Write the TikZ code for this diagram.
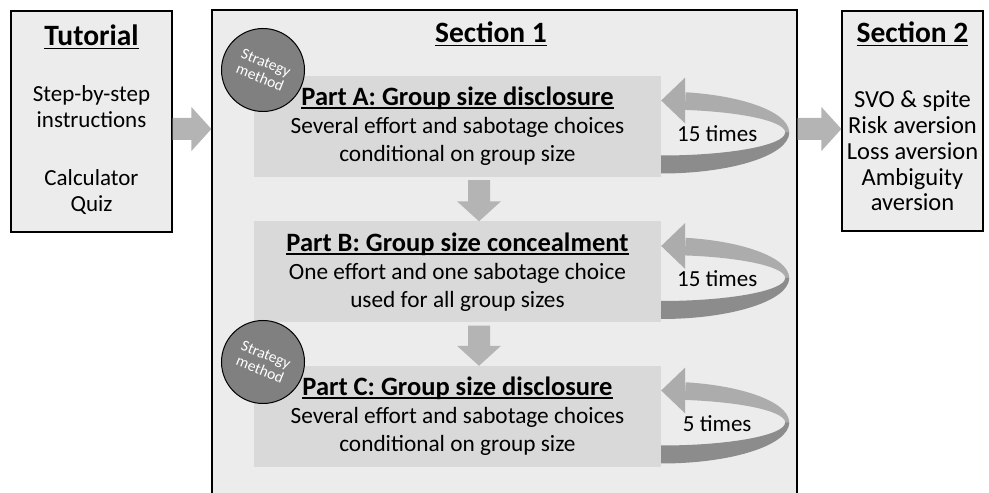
\documentclass[tikz,border=0pt]{standalone}
\usepackage{fontspec}
\setmainfont{Carlito}
\usetikzlibrary{positioning,calc}

\definecolor{boxgray}{RGB}{236,236,236}
\definecolor{partgray}{RGB}{217,217,217}
\definecolor{arrowgray}{RGB}{180,180,180}
\definecolor{looplight}{RGB}{172,172,172}
\definecolor{loopdark}{RGB}{140,140,140}
\definecolor{stratgray}{RGB}{128,128,128}

% underlined heading, line just under the baseline
\newcommand{\ultitle}[1]{\setbox0=\hbox{#1}\rlap{\rule[-3.5pt]{\wd0}{1.8pt}}\box0}

% fat arrow to the right, from a tail point to the x of a node side
\newcommand{\rightblock}[2]{%
  \fill[arrowgray] let \p1=(#1), \p2=(#2) in
    (\x1,\y1+11) -- (\x2-20,\y1+11) -- (\x2-20,\y1+22) -- (\x2,\y1)
    -- (\x2-20,\y1-22) -- (\x2-20,\y1-11) -- (\x1,\y1-11) -- cycle;}
% fat arrow downwards
\newcommand{\downblock}[2]{%
  \fill[arrowgray] let \p1=(#1), \p2=(#2) in
    (\x1-11,\y1) -- (\x1-11,\y2+20) -- (\x1-22,\y2+20) -- (\x1,\y2)
    -- (\x1+22,\y2+20) -- (\x1+11,\y2+20) -- (\x1+11,\y1) -- cycle;}

\tikzset{
  outerbox/.style={draw=black, line width=1.2pt, fill=boxgray, inner sep=0pt},
  partbox/.style={fill=partgray, minimum width=407, minimum height=101, inner sep=0pt,
    align=center, font=\fontsize{23.3}{28}\selectfont},
  strat/.style={circle, draw=black, line width=1pt, fill=stratgray, minimum size=83,
    inner sep=0pt, text=white, align=center, font=\fontsize{15.5}{16}\selectfont},
  secttitle/.style={anchor=base, font=\fontsize{29.5}{30}\selectfont\bfseries},
  bodytext/.style={anchor=base, font=\fontsize{23}{26}\selectfont},
  sidetext/.style={anchor=base, font=\fontsize{24.5}{26}\selectfont},
  looplabel/.style={font=\fontsize{23}{26}\selectfont}
}

\begin{document}
\begin{tikzpicture}[x=1pt,y=1pt]
\useasboundingbox (0,0) rectangle (989,493);

% the three big boxes
\node[outerbox, minimum width=161, minimum height=221] (tutorial) at (91.5,371.5) {};
\node[outerbox, minimum width=585, minimum height=493] (sec1) at (504.5,236.5) {};
\node[outerbox, minimum width=141, minimum height=220] (sec2) at (912.5,372) {};

% Tutorial
\node[secttitle] (tuttitle) at (91.5,447) {\ultitle{Tutorial}};
\node[bodytext] (tutstep) at (91.5,391) {Step-by-step};
\node[bodytext] (tutinstr) at (91.5,365) {instructions};
\node[bodytext] (tutcalc) at (91.5,307) {Calculator};
\node[bodytext] (tutquiz) at (91.5,281) {Quiz};

% Section 2
\node[secttitle] (sec2title) at (912.5,450) {\ultitle{Section 2}};
\node[sidetext] (svo) at (912.5,385) {SVO \& spite};
\node[sidetext] (risk) at (912.5,359) {Risk aversion};
\node[sidetext] (loss) at (912.5,333) {Loss aversion};
\node[sidetext] (ambig) at (912.5,307) {Ambiguity};
\node[sidetext] (ambav) at (912.5,282) {aversion};

% Section 1 and its parts
\node[secttitle] (sec1title) at (491,450) {\ultitle{Section 1}};
\node[partbox] (partA) at (457.5,366.5) {{\fontsize{26.5}{28}\selectfont\bfseries\ultitle{Part A: Group size disclosure}}\\
  Several effort and sabotage choices\\ conditional on group size};
\node[partbox] (partB) at (457.5,221) {{\fontsize{26.5}{28}\selectfont\bfseries\ultitle{Part B: Group size concealment}}\\
  One effort and one sabotage choice\\ used for all group sizes};
\node[partbox] (partC) at (457.5,76.5) {{\fontsize{26.5}{28}\selectfont\bfseries\ultitle{Part C: Group size disclosure}}\\
  Several effort and sabotage choices\\ conditional on group size};

\node[strat, rotate=-22] (stratA) at (263,423) {Strategy\\method};
\node[strat, rotate=-22] (stratC) at (263,131) {Strategy\\method};

% arrows between boxes
\coordinate (tailL) at ($(tutorial.east)+(0,-7.5)$);
\coordinate (tailR) at (sec1.east |- tailL);
\rightblock{tailL}{sec1.west}
\rightblock{tailR}{sec2.west}
\coordinate (tailAB) at ($(partA.south)+(21.5,-3)$);
\coordinate (tailBC) at ($(partB.south)+(21.5,-3)$);
\downblock{tailAB}{partB.north}
\downblock{tailBC}{partC.north}

% repeat loops
\foreach \pname/\reps in {partA/15, partB/15, partC/5} {
  \coordinate (loop\pname) at ($(\pname.east)+(0,-6)$);
  \fill[looplight] ($(loop\pname)+(79:128 and 41)$)
    arc[start angle=79, end angle=-4, x radius=128, y radius=41]
    -- ($(loop\pname)+(-4:124 and 23)$)
    arc[start angle=-4, end angle=79, x radius=124, y radius=23] -- cycle;
  \fill[looplight] ($(loop\pname)+(0,32)$) -- ++(24,23) -- ++(0,-46) -- cycle;
  \fill[loopdark] ($(loop\pname)+(0:128 and 41)$)
    arc[start angle=0, end angle=-90, x radius=128, y radius=41] -- ++(0,18)
    arc[start angle=-90, end angle=0, x radius=124, y radius=23] -- cycle;
  \node[looplabel] (lab\pname) at ($(loop\pname)+(56,-1)$) {\reps~times};
}
\end{tikzpicture}
\end{document}
